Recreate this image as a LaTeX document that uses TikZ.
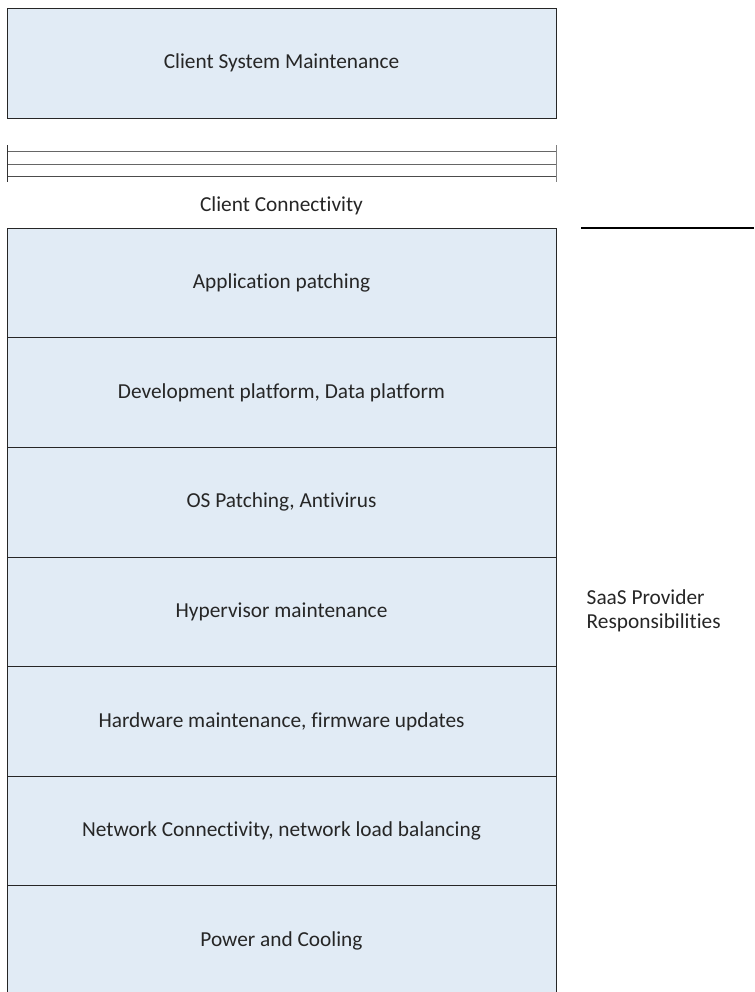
\documentclass[tikz,border=0pt]{standalone}
\usepackage{fontspec}
\setmainfont[Ligatures=NoCommon]{Carlito}
\usepackage{xcolor}
\usetikzlibrary{positioning}

\definecolor{layerblue}{RGB}{225,235,245}

\begin{document}
\begin{tikzpicture}[x=0.75pt,y=-0.75pt,
    layerbox/.style={draw=black!85,fill=layerblue,line width=0.75pt,minimum width=411.75pt,minimum height=82.2pt,outer sep=0pt,inner sep=0pt,text=black!85,font=\fontsize{16}{18}\selectfont},
    plain/.style={text=black!85,font=\fontsize{16}{18}\selectfont}]
    \useasboundingbox (0,0) rectangle (754,992);
    
    % Client side
    \node[layerbox,minimum height=82.5pt] (csm) at (281.5,63) {Client System Maintenance};
    
    % Connectivity lines
    \draw[black!60,line width=0.75pt] (7,151) -- (556,151);
    \draw[black!60,line width=0.75pt] (7,164) -- (556,164);
    \draw[black!70,line width=0.75pt] (7,176) -- (556,176);
    \draw[black!80,line width=0.75pt] (7,145) -- (7,182);
    \draw[black!50,line width=0.75pt] (556,145) -- (556,182);
    \node[plain] (conn) at (281.5,206) {Client Connectivity};
    
    % Provider layers
    \node[layerbox] (app) at (281.5,283) {Application patching};
    \node[layerbox,below=0pt of app] (dev) {Development platform, Data platform};
    \node[layerbox,below=0pt of dev] (os) {OS Patching, Antivirus};
    \node[layerbox,below=0pt of os] (hyp) {Hypervisor maintenance};
    \node[layerbox,below=0pt of hyp] (hw) {Hardware maintenance, firmware updates};
    \node[layerbox,below=0pt of hw] (net) {Network Connectivity, network load balancing};
    \node[layerbox,below=0pt of net] (pwr) {Power and Cooling};
    
    % Responsibilities
    \coordinate (rl) at (581,228);
    \coordinate (rr) at (754,228);
    \draw[black,line width=1.2pt] (rl) -- (rr);
    \node[plain,anchor=west,align=left] (saas) at (582,611) {SaaS Provider\\Responsibilities};
\end{tikzpicture}
\end{document}
